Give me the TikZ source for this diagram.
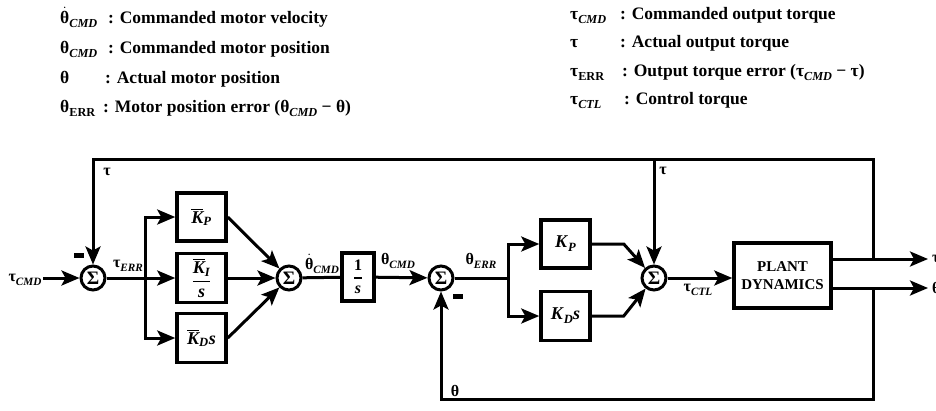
\documentclass[tikz,border=0pt]{standalone}
\usepackage{amsmath}
\usepackage{fontspec}
\setmainfont{Liberation Serif}
\usetikzlibrary{arrows.meta,calc}
\makeatletter
\newcommand\sbi[1]{\raisebox{-0.22em}{\fontsize{\fpeval{0.7*\f@size}}{0}\selectfont\itshape #1}}
\newcommand\sbu[1]{\raisebox{-0.22em}{\fontsize{\fpeval{0.7*\f@size}}{0}\selectfont #1}}
\makeatother
\newcommand\thd{\(\dot{\text{θ}}\)}
\newcommand\Kbar[1]{\(\overline{\text{\itshape K}}_{\text{\itshape #1}}\)}
\begin{document}
\begin{tikzpicture}[x=1pt,y=-1pt,
  legend/.style={anchor=west,inner sep=0pt,text height=13pt,text depth=4pt,font=\fontsize{17.5}{21}\selectfont\bfseries},
  lab/.style={inner sep=0pt,font=\fontsize{16}{18}\selectfont\bfseries},
  wire/.style={line width=3pt},
  arr/.style={line width=3pt,-{Stealth[length=18pt,width=15pt,inset=4pt]}},
  blk/.style={draw,line width=3.5pt,minimum width=49pt,minimum height=48pt,inner sep=0pt,font=\fontsize{18}{20}\selectfont\bfseries},
  sumnode/.style={circle,draw,line width=3pt,minimum size=24pt,inner sep=0pt,font=\fontsize{19}{19}\selectfont\bfseries},
  minus/.style={fill,minimum width=10pt,minimum height=5pt,inner sep=0pt}]
\useasboundingbox (0,0) rectangle (936,410);

% legend
\node[legend] (l1) at (60,19) {\makebox[48pt][l]{\thd\sbi{CMD}}: Commanded motor velocity};
\node[legend] (l2) at (60,49) {\makebox[48pt][l]{θ\sbi{CMD}}: Commanded motor position};
\node[legend] (l3) at (60,79) {\makebox[45pt][l]{θ}: Actual motor position};
\node[legend] (l4) at (60,108) {\makebox[43pt][l]{θ\sbu{ERR}}: Motor position error (θ\sbi{CMD} − θ)};
\node[legend] (r1) at (570,15) {\makebox[50pt][l]{τ\sbi{CMD}}: Commanded output torque};
\node[legend] (r2) at (570,43) {\makebox[50pt][l]{τ}: Actual output torque};
\node[legend] (r3) at (570,72) {\makebox[52pt][l]{τ\sbu{ERR}}: Output torque error (τ\sbi{CMD} − τ)};
\node[legend] (r4) at (570,100) {\makebox[54pt][l]{τ\sbi{CTL}}: Control torque};

% nodes
\node[sumnode] (s1) at (93,278) {Σ};
\node[sumnode] (s2) at (289,278) {Σ};
\node[sumnode] (s3) at (441,278) {Σ};
\node[sumnode] (s4) at (654,278) {Σ};
\node[blk] (kp1) at (201.5,217) {\Kbar{P}};
\node[blk,minimum height=49pt] (ki1) at (201.5,278) {\(\genfrac{}{}{1.5pt}{0}{\overline{\text{\itshape K}}_{\text{\itshape I}}}{\text{\itshape s}}\)};
\node[blk,minimum height=49pt] (kd1) at (201.5,338) {\Kbar{D}\textit{s}};
\node[blk,minimum width=32pt,font=\fontsize{16}{18}\selectfont\bfseries] (int) at (358,277) {\(\genfrac{}{}{1.5pt}{0}{\text{1}}{\text{\itshape s}}\)};
\node[blk] (kp2) at (565.5,244) {\textit{K}\sbi{P}};
\node[blk,minimum height=49pt] (kd2) at (565.5,316) {\textit{K}\sbi{D}\textit{s}};
\node[draw,line width=3.5pt,minimum width=97pt,minimum height=65pt,inner sep=0pt,align=center,
      font=\fontsize{15}{18}\selectfont\bfseries] (plant) at (782.5,275.5) {PLANT\\DYNAMICS};
\node[minus] (m1) at (79,255.5) {};
\node[minus] (m3) at (457.5,296.5) {};

% labels
\node[lab] (tcmd) at (25,280) {τ\sbi{CMD}};
\node[lab] (terr) at (128,266) {τ\sbi{ERR}};
\node[lab] (thdc) at (322,264) {\thd\sbi{CMD}};
\node[lab] (thc) at (398,261) {θ\sbi{CMD}};
\node[lab] (ther) at (481,261) {θ\sbi{ERR}};
\node[lab] (tctl) at (698,290) {τ\sbi{CTL}};
\node[lab] (tfb1) at (107,172) {τ};
\node[lab] (tfb2) at (663,171) {τ};
\node[lab] (thfb) at (455,391) {θ};
\node[lab,anchor=west] (tout) at (932,259) {τ};
\node[lab,anchor=west] (thout) at (932,288) {θ};

% coordinates
\coordinate (in) at (43,278);
\coordinate (b1) at (145,278);
\coordinate (b2) at (508,278);
\coordinate (j1) at (873,259);
\coordinate (j2) at (873,288);
\coordinate (c1) at (873,159);
\coordinate (c2) at (93,159);
\coordinate (c3) at (654,159);
\coordinate (c4) at (873,399);
\coordinate (c5) at (441,399);
\coordinate (o1) at (928,259);
\coordinate (o2) at (928,288);

% connectors
\draw[arr] (in) -- (s1);
\draw[wire] (s1) -- (b1);
\draw[arr] (b1) -- (ki1);
\draw[arr] (b1) -- (b1|-kp1) -- (kp1);
\draw[arr] (b1) -- (b1|-kd1) -- (kd1);
\draw[arr] (kp1.east) -- (s2);
\draw[arr] (ki1) -- (s2);
\draw[arr] (kd1.east) -- (s2);
\draw[wire] (s2) -- (int);
\draw[arr] (int) -- (s3);
\draw[wire] (s3) -- (b2);
\draw[arr] (b2) -- (b2|-kp2) -- (kp2);
\draw[arr] (b2) -- (b2|-kd2) -- (kd2);
\draw[arr] (kp2.east) -- ++(32,0) -- (s4);
\draw[arr] (kd2.east) -- ++(32,0) -- (s4);
\draw[arr] (s4) -- (s4-|plant.west);
\draw[arr] (plant.east|-j1) -- (o1);
\draw[arr] (plant.east|-j2) -- (o2);
\draw[arr] (j1) -- (c1) -- (c2) -- (s1);
\draw[arr] (c3) -- (s4);
\draw[arr] (j2) -- (c4) -- (c5) -- (s3);
\end{tikzpicture}
\end{document}
